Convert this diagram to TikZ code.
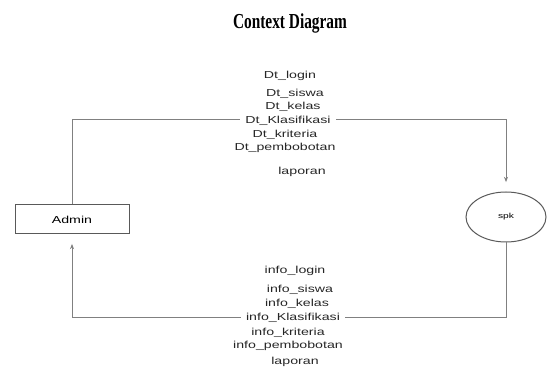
\documentclass[tikz,border=0pt]{standalone}
\usepackage{fontspec}
\usetikzlibrary{shapes.geometric,arrows.meta}
\newfontfamily\flowfont[FakeStretch=1.4]{Liberation Sans}
\newfontfamily\titlefont[FakeStretch=0.72]{Liberation Serif}
\tikzset{
	flow/.style={draw=black!50, -{Stealth[length=4pt,width=3pt]}, shorten >=7pt},
	flowlabel/.style={font=\flowfont\fontsize{7.6}{8}\selectfont, inner sep=1pt, text=black!85},
	onlinelabel/.style={flowlabel, fill=white, inner xsep=4pt, inner ysep=0.5pt},
	entity/.style={draw=black!65, rectangle, minimum width=85.5pt, minimum height=21.75pt, inner sep=0pt},
	process/.style={draw=black!65, ellipse, minimum width=60pt, minimum height=37.5pt, inner sep=0pt}}
\tikzset{every picture/.style={line width=0.75pt}}

\begin{document}
\begin{tikzpicture}[x=0.75pt,y=0.75pt,yscale=-1,xscale=1]
	\useasboundingbox (0,0) rectangle (547,381);

	% Title
	\node (title) at (290,23) {\titlefont\bfseries\fontsize{16}{18}\selectfont Context Diagram};

	% Admin and spk
	\node [entity] (admin) at (72,219.5) {\flowfont\fontsize{7.6}{8}\selectfont Admin};
	\node [process] (spk) at (506,217) {\flowfont\fontsize{5.5}{6}\selectfont spk};

	% corners of the flows
	\coordinate (topL) at (72,120);
	\coordinate (topR) at (506,120);
	\coordinate (botR) at (506,318);
	\coordinate (botL) at (72,318);

	% Flow Admin -> spk
	\draw [flow] (admin.north) -- (topL) -- (topR) -- (spk.north);
	% Flow spk -> Admin
	\draw [flow] (spk.south) -- (botR) -- (botL) -- (admin.south);

	% Text Nodes above
	\node [flowlabel] (dtlogin) at (290,76) {Dt\_login};
	\node [flowlabel] (dtsiswa) at (295,94) {Dt\_siswa};
	\node [flowlabel] (dtkelas) at (293,107) {Dt\_kelas};
	\node [onlinelabel] (dtklas) at (288,121) {Dt\_Klasifikasi};
	\node [flowlabel] (dtkriteria) at (285,135) {Dt\_kriteria};
	\node [flowlabel] (dtbobot) at (285,148) {Dt\_pembobotan};
	\node [flowlabel] (laporanA) at (302,172) {laporan};

	% Text Nodes below
	\node [flowlabel] (infologin) at (295,271) {info\_login};
	\node [flowlabel] (infosiswa) at (300,290) {info\_siswa};
	\node [flowlabel] (infokelas) at (297,304) {info\_kelas};
	\node [onlinelabel] (infoklas) at (293,318) {info\_Klasifikasi};
	\node [flowlabel] (infokriteria) at (288,333) {info\_kriteria};
	\node [flowlabel] (infobobot) at (288,346) {info\_pembobotan};
	\node [flowlabel] (laporanB) at (295,362) {laporan};

\end{tikzpicture}
\end{document}
